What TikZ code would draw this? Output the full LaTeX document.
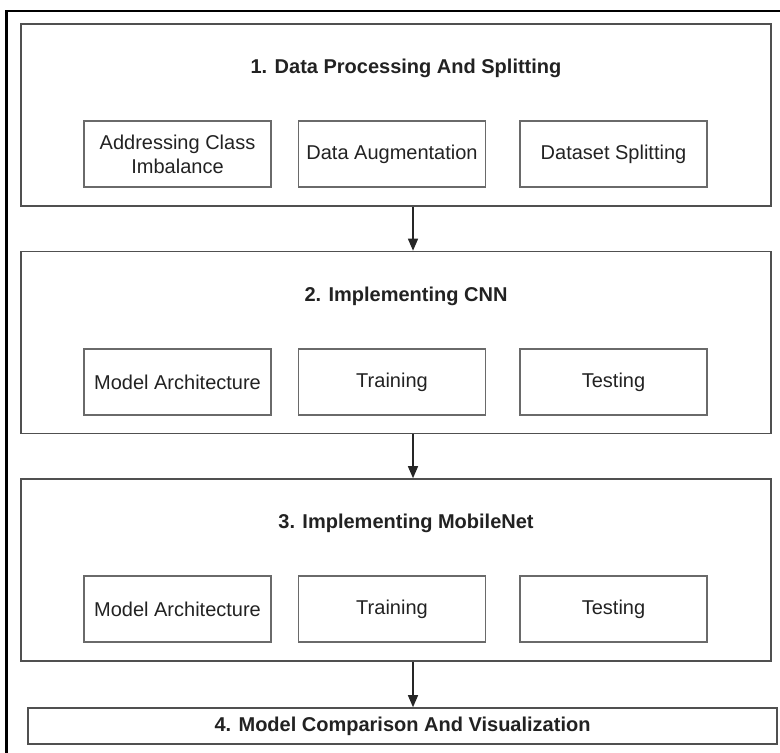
\documentclass[tikz,border=0pt]{standalone}
\usepackage{fontspec}
\setmainfont{Liberation Sans}
\usepackage{xcolor}
\usetikzlibrary{arrows.meta, positioning}

\definecolor{inktext}{HTML}{222222}
\definecolor{inkline}{HTML}{505050}

\tikzset{
  stage/.style={draw=inkline, line width=0.8pt, minimum width=375pt, minimum height=91pt, inner sep=0pt},
  title/.style={font=\bfseries, text=inktext},
  task/.style={draw=inkline!85, line width=0.75pt, minimum width=93.5pt, minimum height=33pt, align=center, text=inktext, inner sep=1pt},
  flow/.style={-{Triangle[length=6pt,width=5pt]}, line width=0.7pt, black!85}
}

\begin{document}
\begin{tikzpicture}[x=0.5pt, y=-0.5pt]
    \useasboundingbox (0,0) rectangle (780,753);
    \clip (0,0) rectangle (780,753);
    \draw[line width=1.3pt] (6.5,11) rectangle (800,780);

    \node[stage] (s1) at (396,115) {};
    \node[title] (t1) at (406,68) {1. Data Processing And Splitting};
    \node[task] (aug) at (392,154) {Data Augmentation};
    \node[task, left=13pt of aug] (imb) {Addressing Class\\Imbalance};
    \node[task, right=16.5pt of aug] (split) {Dataset Splitting};

    \node[stage] (s2) at (396,342.5) {};
    \node[title] (t2) at (406,296) {2. Implementing CNN};
    \node[task] (train2) at (392,382) {Training};
    \node[task, left=13pt of train2] (arch2) {Model Architecture};
    \node[task, right=16.5pt of train2] (test2) {Testing};

    \node[stage] (s3) at (396,570) {};
    \node[title] (t3) at (406,523) {3. Implementing MobileNet};
    \node[task] (train3) at (392,609) {Training};
    \node[task, left=13pt of train3] (arch3) {Model Architecture};
    \node[task, right=16.5pt of train3] (test3) {Testing};

    \node[stage, minimum width=374.5pt, minimum height=18pt] (s4) at (402.5,726) {};
    \node[title] (t4) at (s4) {4. Model Comparison And Visualization};

    \coordinate (ax) at (413,0);
    \draw[flow] (s1.south -| ax) -- (s2.north -| ax);
    \draw[flow] (s2.south -| ax) -- (s3.north -| ax);
    \draw[flow] (s3.south -| ax) -- (s4.north -| ax);
  \end{tikzpicture}
\end{document}
